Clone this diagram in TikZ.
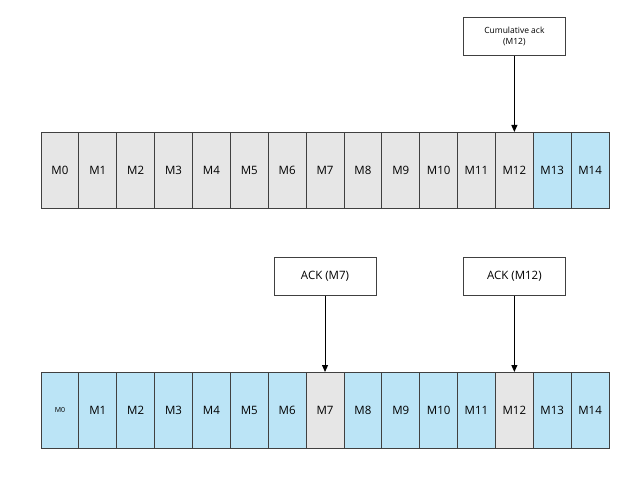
\documentclass[tikz,border=0pt]{standalone}
\usepackage{fontspec}
\setmainfont{Open Sans}
\usepackage{tikz}
\usetikzlibrary{arrows.meta, positioning}

\begin{document}
\begin{tikzpicture}[
    x=1pt, y=1pt,
    font=\fontsize{11.5}{13}\selectfont,
    cell/.style={
        rectangle, draw=black!75, fill=#1, line width=0.9pt,
        minimum width=37.87pt, minimum height=76pt,
        inner sep=0pt, outer sep=0pt
    },
    ackbox/.style={
        rectangle, draw=black!75, fill=white, line width=0.9pt,
        minimum width=102pt, minimum height=38pt,
        align=center, inner sep=2pt
    },
    ackarrow/.style={
        -{Triangle[length=7pt,width=6pt]}, line width=0.9pt, black
    },
]

\definecolor{sent}{RGB}{230,230,230}
\definecolor{unsent}{RGB}{187,228,246}

\useasboundingbox (0,0) rectangle (637,477);

% ============================================================
% Top row: cumulative ack
% ============================================================

\foreach \i in {0,...,14}{
    \ifnum\i<13 \def\cellfill{sent}\else\def\cellfill{unsent}\fi
    \node[cell=\cellfill] (t\i) at ({41+(\i+0.5)*37.87}, 307) {M\i};
}

\node[ackbox, above=76pt of t12, font=\fontsize{8.5}{11}\selectfont] (cum)
    {Cumulative ack\\(M12)};
\draw[ackarrow] (cum.south) -- (t12.north);

% ============================================================
% Bottom row: selective acks
% ============================================================

% smaller label on the first cell
\node[cell=unsent, font=\fontsize{7}{8}\selectfont] (b0) at ({41+0.5*37.87}, 67) {M0};
\foreach \i in {1,...,14}{
    \ifnum\i=7 \def\cellfill{sent}\else
    \ifnum\i=12 \def\cellfill{sent}\else\def\cellfill{unsent}\fi\fi
    \node[cell=\cellfill] (b\i) at ({41+(\i+0.5)*37.87}, 67) {M\i};
}

\node[ackbox, above=76pt of b7] (ack7) {ACK (M7)};
\node[ackbox, above=76pt of b12] (ack12) {ACK (M12)};

\draw[ackarrow] (ack7.south) -- (b7.north);
\draw[ackarrow] (ack12.south) -- (b12.north);

\end{tikzpicture}
\end{document}
